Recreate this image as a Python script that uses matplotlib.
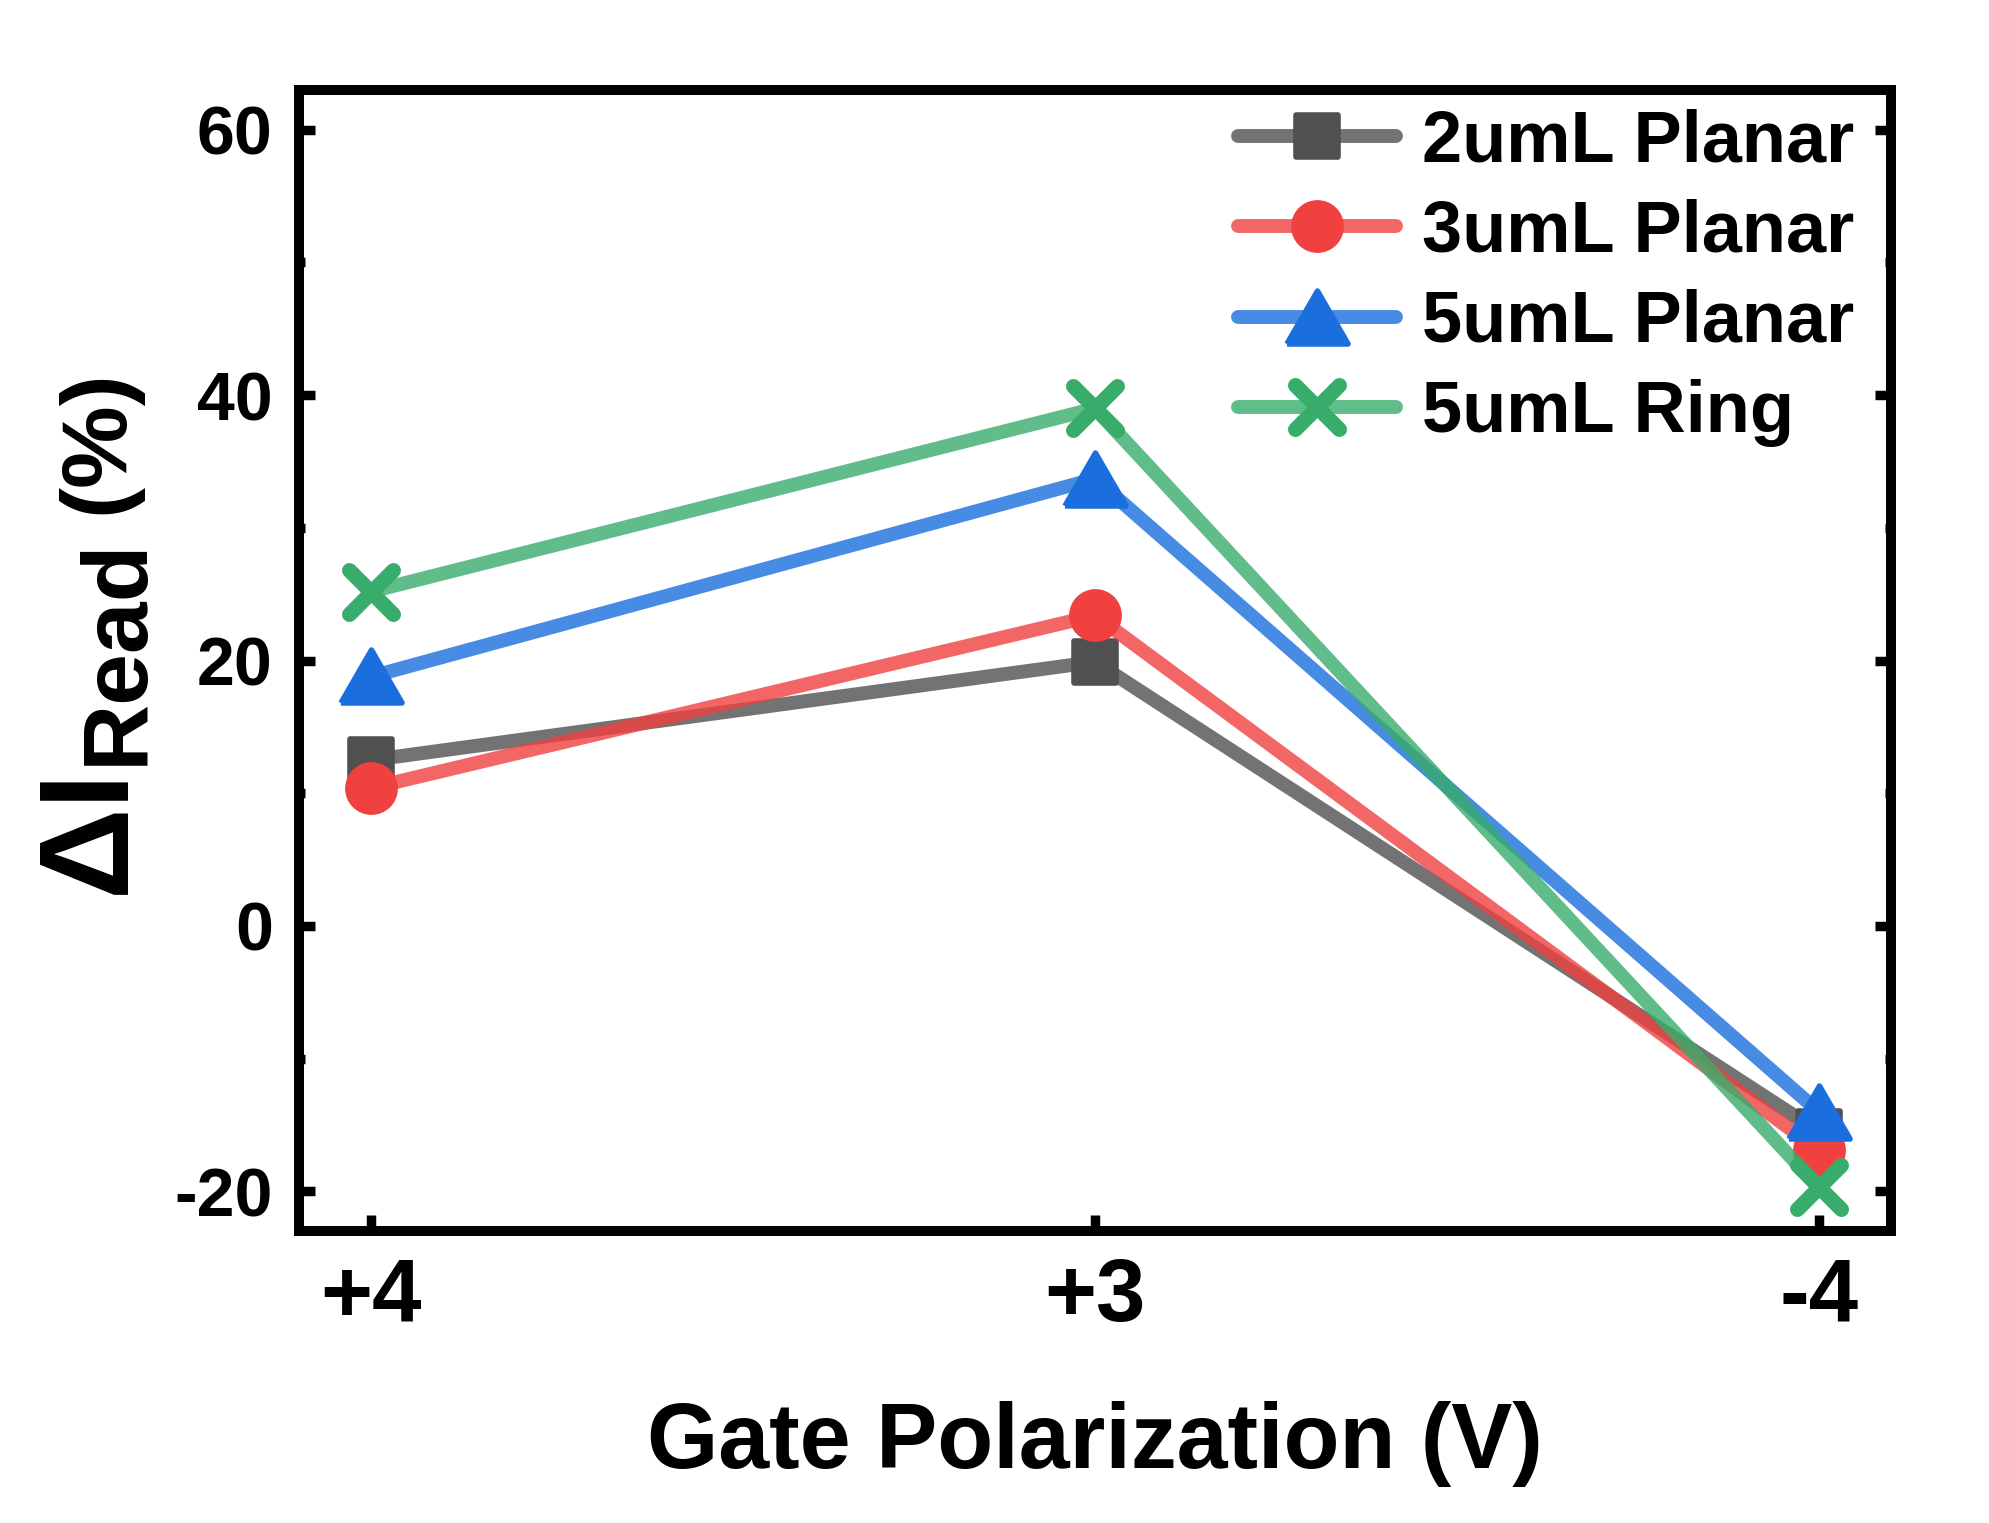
import matplotlib
matplotlib.use("Agg")
import matplotlib.pyplot as plt
from matplotlib.markers import MarkerStyle
from matplotlib.ticker import MultipleLocator

plt.rcParams['font.family'] = ['Liberation Sans', 'DejaVu Sans']
plt.rcParams['font.weight'] = 'bold'
plt.rcParams['axes.labelweight'] = 'bold'
plt.rcParams['axes.unicode_minus'] = False

# data
gate = ["+4", "+3", "-4"]
planar_2um = [12.5, 19.9, -15.5]
planar_3um = [10.4, 23.4, -16.9]
planar_5um = [18.8, 33.7, -14.0]
ring_5um = [25.2, 39.0, -19.7]

labels = ["2umL Planar", "3umL Planar", "5umL Planar", "5umL Ring"]
colors = ["#505050", "#F04040", "#1A6EDD", "#38AC6A"]

tri = [(-1, -0.866), (1, -0.866), (0, 0.866), (-1, -0.866)]
markers = [
    MarkerStyle('s', joinstyle='round'),
    MarkerStyle('o'),
    MarkerStyle(tri, joinstyle='round'),
    MarkerStyle('x', capstyle='round'),
]
msizes = [15, 17, 22, 16]
mews = [2, 2, 2, 5.4]

fig = plt.figure(figsize=(9.95, 7.615), dpi=200)
ax = fig.add_axes([0.1503, 0.1917, 0.80, 0.7492])

x = list(range(len(gate)))
series = [planar_2um, planar_3um, planar_5um, ring_5um]
for y, lab, c, m, ms, mew in zip(series, labels, colors, markers, msizes, mews):
    rgba = matplotlib.colors.to_rgba(c, 0.8)
    ax.plot(x, y, color=rgba, lw=5, solid_capstyle='round', solid_joinstyle='round',
            marker=m, ms=ms, mfc=c, mec=c, mew=mew, label=lab)

ax.set_xlim(-0.1, 2.1)
ax.set_ylim(-23, 63)
ax.set_xticks(x)
ax.set_xticklabels(gate)
ax.yaxis.set_major_locator(MultipleLocator(20))
ax.yaxis.set_minor_locator(MultipleLocator(10))

for s in ax.spines.values():
    s.set_linewidth(3.6)

ax.tick_params(axis='y', which='major', direction='in', length=5.8, width=3.4,
               left=True, right=True, labelsize=24.5, pad=9.5)
ax.tick_params(axis='y', which='minor', direction='in', length=2.0, width=3.4,
               left=True, right=True)
ax.tick_params(axis='x', which='major', direction='in', length=5.8, width=3.4,
               bottom=True, top=False, labelsize=32, pad=9)

ax.set_xlabel("Gate Polarization (V)", fontsize=33, fontweight='bold', labelpad=22)

# y label in three pieces: big ΔI, lowered "Read", then "(%)"
fig.text(0.0623, 0.413, "ΔI", fontsize=46, rotation=90,
         rotation_mode='anchor', ha='left', va='baseline')
fig.text(0.0714, 0.4977, "Read", fontsize=33.5, rotation=90,
         rotation_mode='anchor', ha='left', va='baseline')
fig.text(0.0613, 0.6625, "(%)", fontsize=33.5, rotation=90,
         rotation_mode='anchor', ha='left', va='baseline')

ax.legend(loc='upper right', bbox_to_anchor=(0.988, 1.0), frameon=False,
          fontsize=26, handlelength=2.2, handletextpad=0.35, labelspacing=0.31,
          borderaxespad=0, borderpad=0.25)

fig.savefig("out.png", dpi=200)
